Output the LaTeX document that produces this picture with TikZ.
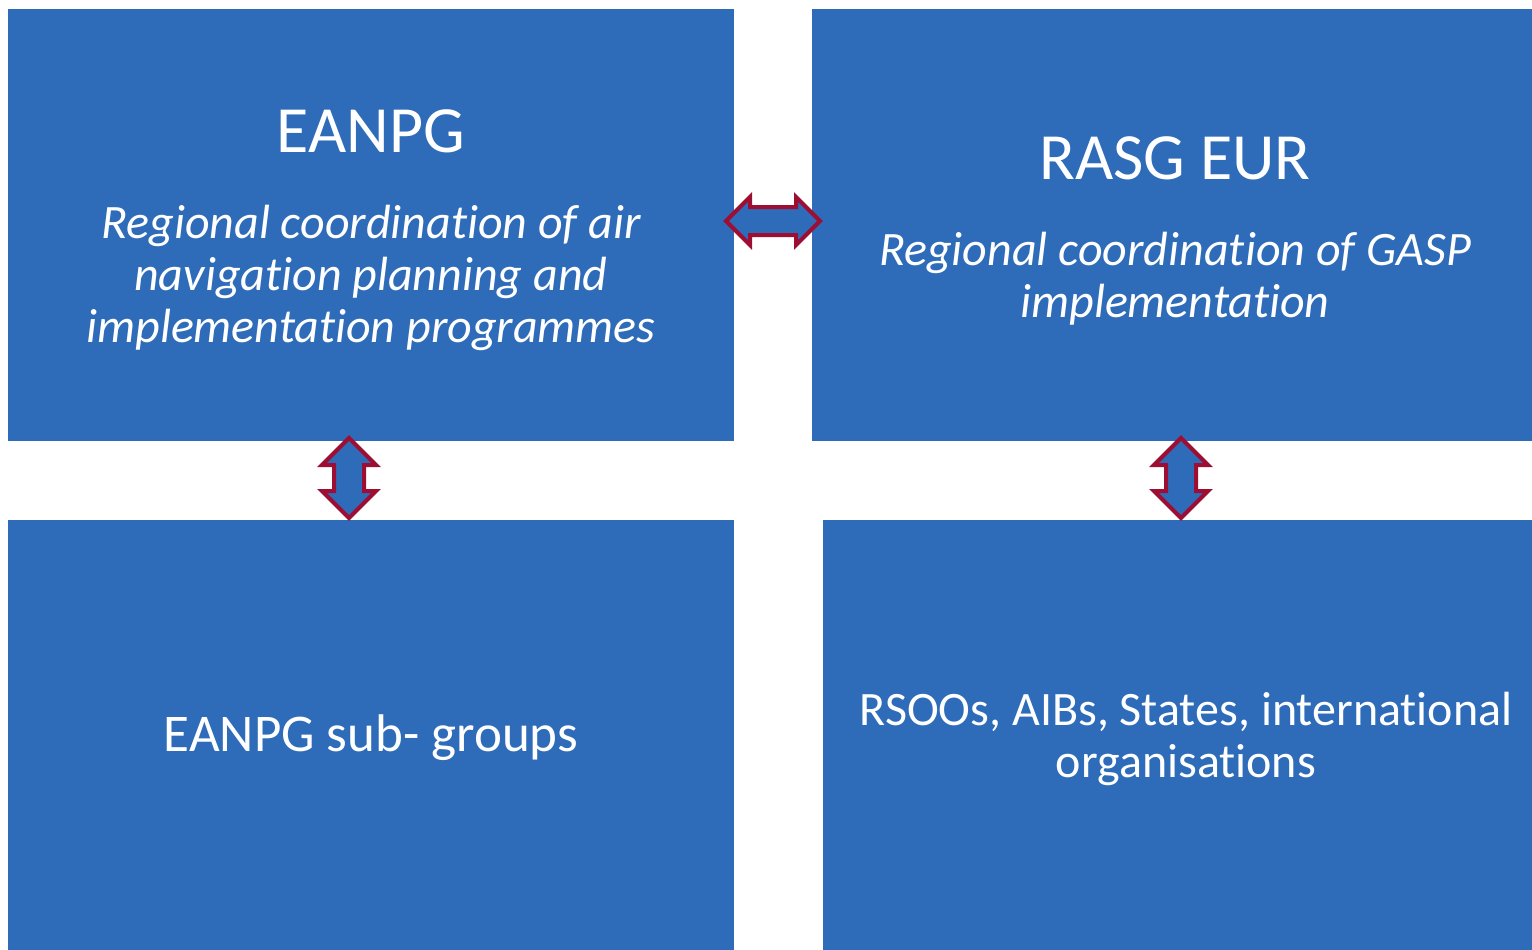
\documentclass[tikz,border=0pt]{standalone}
\usepackage{fontspec}
\setmainfont{Carlito}[Ligatures = NoCommon]
\usetikzlibrary{shapes.arrows}

\definecolor{boxblue}{RGB}{46,108,185}
\definecolor{linkred}{RGB}{158,14,50}

\tikzset{
  group/.style = {fill = boxblue, text = white, align = center, inner sep = 0pt, minimum width = 726pt},
  link/.style = {double arrow, draw = linkred, fill = boxblue, line width = 4pt}
}

\begin{document}
\begin{tikzpicture}[x = 1pt, y = -1pt]
                \useasboundingbox (0,0) rectangle (1532,950);
                \node[group, minimum height = 432pt, font = \fontsize{48}{52}\selectfont\itshape] (EANPG) at (371,225) {{\fontsize{66}{66}\selectfont\upshape\rule{0pt}{54pt}EANPG}\\[34pt]Regional coordination of air\\navigation planning and\\implementation programmes};
                \node[group, minimum height = 432pt, font = \fontsize{48}{52}\selectfont\itshape] (RASG) at (1175,225) {{\fontsize{66}{66}\selectfont\upshape\rule{0pt}{54pt}RASG EUR}\\[34pt]Regional coordination of GASP\\implementation};
                \node[group, minimum height = 436pt, font = \fontsize{53}{52}\selectfont] (sub) at (371,738) {EANPG sub- groups};
                \node[group, minimum height = 438pt, font = \fontsize{48}{52}\selectfont] (orgs) at (1186,739) {RSOOs, AIBs, States, international\\organisations};
                \node[link, inner sep = 12pt, minimum height = 94pt, double arrow head extend = 10pt] (EANPG-RASG) at (773,221) {};
                \node[link, inner sep = 13pt, minimum height = 80pt, double arrow head extend = 12pt, shape border rotate = 90] (EANPG-sub) at (349,478) {};
                \node[link, inner sep = 13pt, minimum height = 80pt, double arrow head extend = 12pt, shape border rotate = 90] (RASG-orgs) at (1181,478) {};
            \end{tikzpicture}
\end{document}
